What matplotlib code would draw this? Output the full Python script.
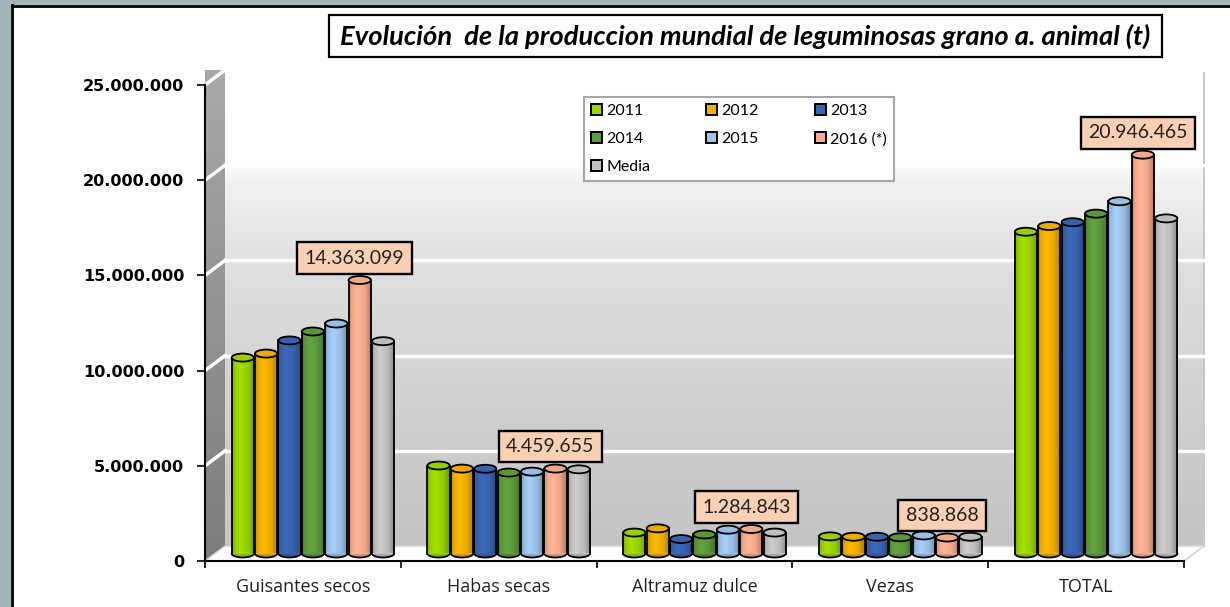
import numpy as np
import matplotlib
matplotlib.use("Agg")
import matplotlib.pyplot as plt
from matplotlib.patches import Rectangle, Ellipse, Polygon, Patch
from matplotlib.lines import Line2D
from matplotlib.colors import to_rgb
from matplotlib.ticker import FuncFormatter, FixedLocator

categories = ["Guisantes secos", "Habas secas", "Altramuz dulce", "Vezas", "TOTAL"]
series = ["2011", "2012", "2013", "2014", "2015", "2016 (*)", "Media"]
colors = ["#9BD600", "#F2B000", "#3A64B2", "#5E9C3C", "#9EC4EC", "#F8AD8F", "#C3C3C3"]

v2011 = [10290000, 4620000, 1100000, 900000, 16900000]
v2012 = [10500000, 4460000, 1320000, 880000, 17200000]
v2013 = [11190000, 4450000, 760000, 880000, 17400000]
v2014 = [11660000, 4250000, 1000000, 850000, 17850000]
v2015 = [12080000, 4300000, 1250000, 950000, 18500000]
v2016 = [14363099, 4459655, 1284843, 838868, 20946465]
media = [11150000, 4420000, 1100000, 880000, 17600000]
values = [v2011, v2012, v2013, v2014, v2015, v2016, media]

yticks = [0, 5000000, 10000000, 15000000, 20000000, 25000000]


def fmt(v, pos=None):
    return f"{int(v):,}".replace(",", ".")


def vgrad(g):
    # column of grays -> (n, 2, 3) image
    return np.stack([g, g, g], axis=-1)[:, None, :].repeat(2, axis=1)


fig = plt.figure(figsize=(12.3, 6.07), dpi=100)
W, H = 1230, 607

# frame of the picture
fig.patches.append(Rectangle((0, 0), 11 / W, 1, transform=fig.transFigure, fc="#a3b4b6", ec="none"))
fig.patches.append(Rectangle((0, 1 - 5 / H), 1, 5 / H, transform=fig.transFigure, fc="#a3b4b6", ec="none"))
fig.lines.append(Line2D([12 / W, 12 / W], [0, 1 - 5 / H], transform=fig.transFigure, color="black", lw=2))
fig.lines.append(Line2D([12 / W, 1], [1 - 6 / H, 1 - 6 / H], transform=fig.transFigure, color="black", lw=2))

# title box
fig.patches.append(Rectangle((329 / W, 1 - 57 / H), 833 / W, 42 / H, transform=fig.transFigure,
                             fc="white", ec="black", lw=1.6))
title = fig.text(745.5 / W, 1 - 36 / H, "Evolución  de la produccion mundial de leguminosas grano a. animal (t)",
                 ha="center", va="center", fontsize=16, family="Lato", weight="bold", style="italic",
                 color="black")
fig.canvas.draw()
tw = title.get_window_extent().width
title.set_fontsize(16 * 812 / tw)

ax = fig.add_axes([205 / W, 1 - 561 / H, 979 / W, 476 / H])
ax.set_xlim(0, 5)
ax.set_ylim(0, 25000000)

DX = 20 / 195.8
DY = 15 / 95.2 * 5000000
EH = 8 / 95.2 * 5000000

# side wall
side = Polygon([(0, 0), (DX, DY), (DX, 25000000 + DY), (0, 25000000)], closed=True,
               fc="none", ec="none", clip_on=False)
ax.add_patch(side)
img = ax.imshow(vgrad(np.linspace(0.66, 0.49, 100)), extent=(0, DX, 0, 25000000 + DY),
                aspect="auto", zorder=0, clip_on=False)
img.set_clip_path(side)

# back wall
yv = np.linspace(25000000 + DY, DY, 200)
g = np.interp(yv, [DY, 10000000, 15000000, 20000000, 21000000, 27000000],
              [0.77, 0.83, 0.87, 0.945, 1.0, 1.0])
ax.imshow(vgrad(g), extent=(DX, 5 + DX, DY, 25000000 + DY), aspect="auto", zorder=0, clip_on=False)
ax.plot([5 + DX, 5 + DX], [DY, 25000000 + DY], color="#c8c8c8", lw=1.5, zorder=0.5, clip_on=False)

# floor
ax.add_patch(Polygon([(0, 0), (5, 0), (5 + DX, DY), (DX, DY)], closed=True, fc="white",
                     ec="#d4d4d4", lw=1.2, zorder=0.6, clip_on=False))

# gridlines on walls
for t in yticks[1:]:
    ax.plot([DX, 5 + DX], [t + DY, t + DY], color="white", lw=2.5, zorder=0.7, clip_on=False)
    ax.plot([0, DX], [t, t + DY], color="white", lw=2.5, zorder=0.7, clip_on=False)

# cylinders
slot = 0.836 / 7
bw = slot * 0.95
prof = np.interp(np.linspace(0, 1, 64), [0, 0.12, 0.35, 0.7, 1], [0.8, 0.95, 1.06, 0.96, 0.7])
for j, cat in enumerate(categories):
    for i, name in enumerate(series):
        v = values[i][j]
        xc = j + 0.5 + DX / 2 + (i - 3) * slot
        x0, x1 = xc - bw / 2, xc + bw / 2
        yb, yt = DY / 2, v + DY / 2
        base = np.array(to_rgb(colors[i]))
        z = 3 + i * 0.01
        ax.add_patch(Ellipse((xc, yb), bw, EH, fc=base * 0.85, ec="black", lw=1.3, zorder=z))
        body = Rectangle((x0, yb), bw, yt - yb, fc=colors[i], ec="none", zorder=z)
        ax.add_patch(body)
        rgb = np.clip(base[None, :] * prof[:, None], 0, 1)
        im = ax.imshow(rgb[None, :, :], extent=(x0, x1, yb, yt), aspect="auto", zorder=z + 0.001,
                       interpolation="bilinear")
        im.set_clip_path(body)
        ax.plot([x0, x0], [yb, yt], color="black", lw=1.3, zorder=z + 0.002)
        ax.plot([x1, x1], [yb, yt], color="black", lw=1.3, zorder=z + 0.002)
        ax.add_patch(Ellipse((xc, yt), bw, EH, fc=np.clip(base * 0.97, 0, 1), ec="black", lw=1.3,
                             zorder=z + 0.003))
    # label for 2016
    xc = j + 0.5 + DX / 2 + 2 * slot
    ax.annotate(fmt(v2016[j]), xy=(xc, v2016[j] + DY / 2), xytext=(-5, 22), textcoords="offset pixels",
                ha="center", va="center", fontsize=14, family="Lato", color="#222222", zorder=10,
                annotation_clip=False,
                bbox=dict(boxstyle="square,pad=0.38", fc="#FAD0B5", ec="black", lw=1.7))

ax.set_xlim(0, 5)
ax.set_ylim(0, 25000000)

for s in ["top", "right"]:
    ax.spines[s].set_visible(False)
for s in ["left", "bottom"]:
    ax.spines[s].set_color("black")
    ax.spines[s].set_linewidth(1.5)
    ax.spines[s].set_zorder(5)

ax.yaxis.set_major_locator(FixedLocator(yticks))
ax.yaxis.set_major_formatter(FuncFormatter(fmt))
ax.tick_params(axis="y", direction="out", length=6, width=1.2, pad=9, labelsize=11.6, colors="black")
for lab in ax.get_yticklabels():
    lab.set_fontweight("bold")
    lab.set_family("DejaVu Sans")

ax.xaxis.set_major_locator(FixedLocator([0, 1, 2, 3, 4, 5]))
ax.xaxis.set_major_formatter(FuncFormatter(lambda v, p: ""))
ax.xaxis.set_minor_locator(FixedLocator([0.5, 1.5, 2.5, 3.5, 4.5]))
ax.set_xticklabels(categories, minor=True)
ax.tick_params(axis="x", which="major", direction="out", length=5, width=1.2)
ax.tick_params(axis="x", which="minor", length=0, pad=12.5, labelsize=13, labelcolor="#222222")
for lab in ax.get_xticklabels(minor=True):
    lab.set_family("Open Sans")

# legend, ordered so the three columns read row by row like the original
order = [0, 3, 6, 1, 4, 2, 5]
handles = [Patch(fc=colors[k], ec="black", lw=1.4) for k in order]
leg = fig.legend(handles, [series[k] for k in order], ncol=3, loc="upper left",
                 bbox_to_anchor=(584 / W, 1 - 97 / H), bbox_transform=fig.transFigure,
                 prop={"family": "Lato", "size": 11.5}, handlelength=0.7, handleheight=0.7,
                 handletextpad=0.25, columnspacing=3.5, labelspacing=0.85, borderpad=0.45,
                 borderaxespad=0, fancybox=False, framealpha=1, edgecolor="#a6a6a6")
leg.get_frame().set_linewidth(1.5)

fig.savefig("out.png", dpi=100)
